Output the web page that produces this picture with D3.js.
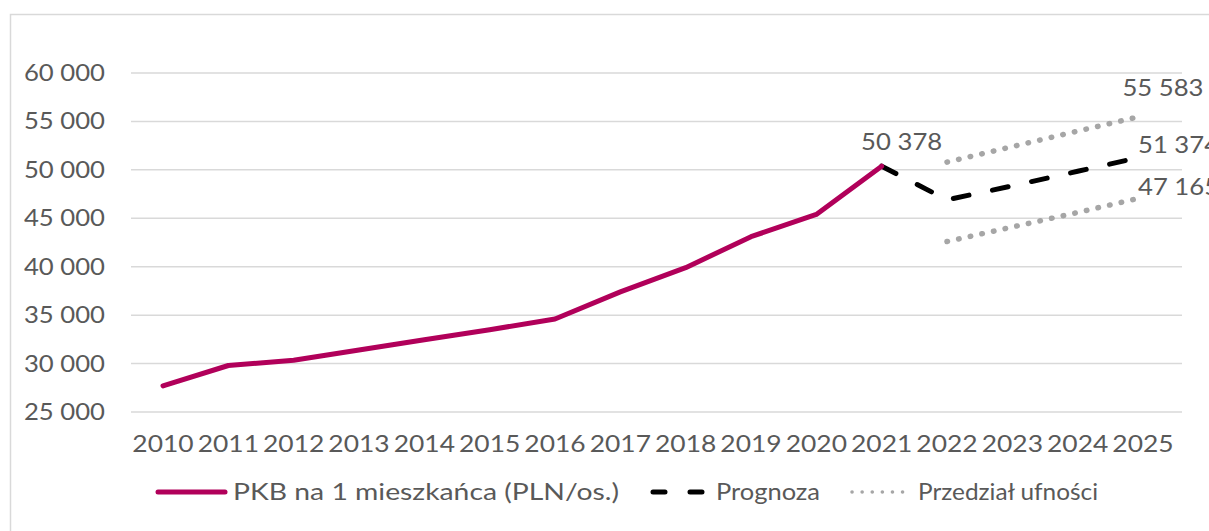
<!DOCTYPE html>
<html>
<head>
<meta charset="utf-8">
<script src="https://cdn.jsdelivr.net/npm/d3@7"></script>
<style>
  body { margin: 0; background: #fff; }
  svg text { font-family: Lato, "Open Sans", sans-serif; fill: #595959; }
</style>
</head>
<body>
<svg id="chart" width="1209" height="531"></svg>
<script>
// Data
const years = ['2010','2011','2012','2013','2014','2015','2016','2017','2018','2019','2020','2021','2022','2023','2024','2025'];
const gdpYears = years.slice(0, 12);
const gdpValues = [27700, 29800, 30350, 31400, 32450, 33500, 34600, 37400, 39900, 43100, 45400, 50378];
const forecastYears = ['2021','2022','2023','2024','2025'];
const forecastValues = [50378, 46900, 48350, 49850, 51374];
const intervalYears = ['2022','2023','2024','2025'];
const upperValues = [50800, 52400, 54000, 55583];
const lowerValues = [42600, 44100, 45600, 47165];
const yTicks = [25000, 30000, 35000, 40000, 45000, 50000, 55000, 60000];
const legendLabels = ['PKB na 1 mieszkańca (PLN/os.)', 'Prognoza', 'Przedział ufności'];

const svg = d3.select('#chart');
const fmt = v => d3.format(',')(v).replace(/,/g, ' ');

// widen Lato a little so it reads like the wide geometric face of the original
function stretch(sel, factor) {
  sel.each(function() {
    const w = this.getComputedTextLength();
    d3.select(this)
      .attr('textLength', w * factor)
      .attr('lengthAdjust', 'spacingAndGlyphs');
  });
}

// Chart border
svg.append('rect')
  .attr('x', 10.5).attr('y', 14.5)
  .attr('width', 1220).attr('height', 540)
  .attr('fill', 'none')
  .attr('stroke', '#d9d9d9')
  .attr('stroke-width', 1.5);

// Scales
const x = d3.scalePoint().domain(years).range([163, 1143]);
const y = d3.scaleLinear().domain([25000, 60000]).range([412, 73]);

// Gridlines
svg.append('g')
  .selectAll('line')
  .data(yTicks)
  .join('line')
  .attr('x1', 131).attr('x2', 1182)
  .attr('y1', d => y(d)).attr('y2', d => y(d))
  .attr('stroke', '#d9d9d9')
  .attr('stroke-width', 1.5);

// Y axis labels
svg.append('g')
  .selectAll('text')
  .data(yTicks)
  .join('text')
  .attr('x', 105)
  .attr('y', d => y(d) + 8)
  .attr('text-anchor', 'end')
  .attr('font-size', '24px')
  .text(fmt)
  .call(stretch, 1.07);

// X axis labels
svg.append('g')
  .selectAll('text')
  .data(years)
  .join('text')
  .attr('x', d => x(d))
  .attr('y', 452)
  .attr('text-anchor', 'middle')
  .attr('font-size', '24px')
  .text(d => d)
  .call(stretch, 1.1);

const line = d3.line().x(d => x(d[0])).y(d => y(d[1]));

// Confidence interval
[upperValues, lowerValues].forEach(vals => {
  svg.append('path')
    .datum(d3.zip(intervalYears, vals))
    .attr('d', line)
    .attr('fill', 'none')
    .attr('stroke', '#a6a6a6')
    .attr('stroke-width', 5.5)
    .attr('stroke-linecap', 'round')
    .attr('stroke-dasharray', '0.5 11.4');
});

// Forecast
svg.append('path')
  .datum(d3.zip(forecastYears, forecastValues))
  .attr('d', line)
  .attr('fill', 'none')
  .attr('stroke', '#000')
  .attr('stroke-width', 5)
  .attr('stroke-linecap', 'round')
  .attr('stroke-dasharray', '16 24');

// GDP per capita
svg.append('path')
  .datum(d3.zip(gdpYears, gdpValues))
  .attr('d', line)
  .attr('fill', 'none')
  .attr('stroke', '#b1005a')
  .attr('stroke-width', 5)
  .attr('stroke-linejoin', 'round')
  .attr('stroke-linecap', 'round');

// Data labels
const labels = [
  { yr: '2021', v: gdpValues[11], dx: 20, dy: -16, anchor: 'middle' },
  { yr: '2025', v: upperValues[3], dx: 20, dy: -20, anchor: 'middle' },
  { yr: '2025', v: forecastValues[4], dx: -5, dy: -4, anchor: 'start' },
  { yr: '2025', v: lowerValues[3], dx: -5, dy: -2, anchor: 'start' }
];
svg.append('g')
  .selectAll('text')
  .data(labels)
  .join('text')
  .attr('x', d => x(d.yr) + d.dx)
  .attr('y', d => y(d.v) + d.dy)
  .attr('text-anchor', d => d.anchor)
  .attr('font-size', '24px')
  .text(d => fmt(d.v))
  .call(stretch, 1.07);

// Legend
const legend = svg.append('g').attr('transform', 'translate(0, 492)');
legend.append('line')
  .attr('x1', 158).attr('x2', 225).attr('y1', 0).attr('y2', 0)
  .attr('stroke', '#b1005a').attr('stroke-width', 5).attr('stroke-linecap', 'round');
legend.append('line')
  .attr('x1', 653).attr('x2', 710).attr('y1', 0).attr('y2', 0)
  .attr('stroke', '#000').attr('stroke-width', 5).attr('stroke-linecap', 'round')
  .attr('stroke-dasharray', '12 25');
legend.append('line')
  .attr('x1', 852).attr('x2', 903).attr('y1', 0).attr('y2', 0)
  .attr('stroke', '#a6a6a6').attr('stroke-width', 3.5).attr('stroke-linecap', 'round')
  .attr('stroke-dasharray', '0.1 10');
const legendText = [[233, 386], [716, 104], [918, 180]];
legendText.forEach(([lx, w], i) => {
  legend.append('text')
    .attr('x', lx).attr('y', 8)
    .attr('font-size', '24px')
    .attr('textLength', w)
    .attr('lengthAdjust', 'spacingAndGlyphs')
    .text(legendLabels[i]);
});
</script>
</body>
</html>
